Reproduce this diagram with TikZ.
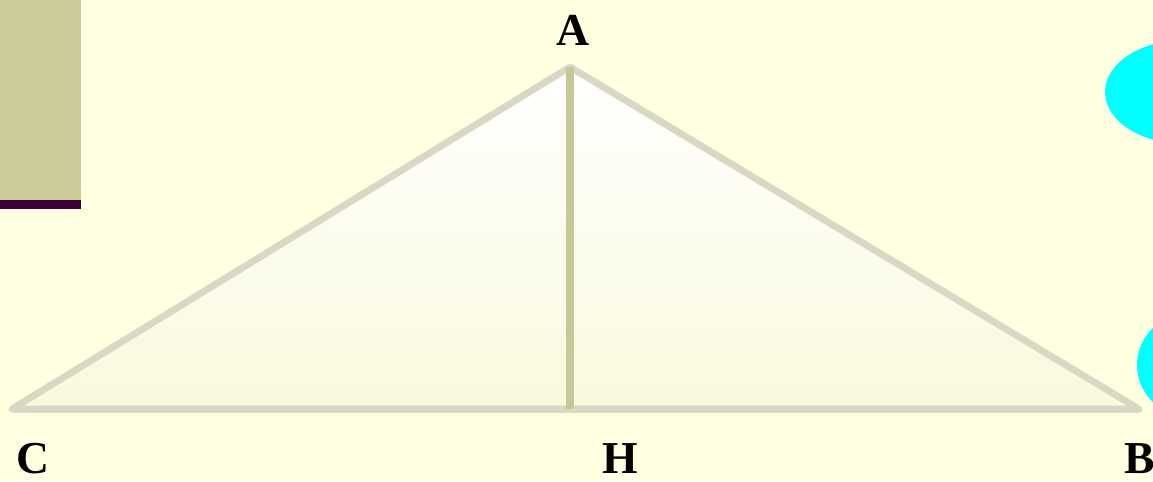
\documentclass[tikz,border=0pt]{standalone}
\usepackage{fontspec}
\setmainfont{Liberation Serif}
\usetikzlibrary{shadows}
\definecolor{bgyellow}{RGB}{255,255,226}
\definecolor{khaki}{RGB}{204,204,153}
\definecolor{plum}{RGB}{58,0,56}
\definecolor{edgegrey}{RGB}{216,216,196}
\definecolor{altcol}{RGB}{200,200,150}
\definecolor{aqua}{RGB}{0,255,255}
\begin{document}
\begin{tikzpicture}[
  x=0.02cm,y=-0.02cm,
  vlab/.style={font=\fontsize{26}{30}\selectfont\bfseries,inner sep=0pt,anchor=base},
  side/.style={draw=edgegrey,line width=3.9pt,line cap=round,line join=round},
  blob/.style={fill=aqua},
]
% page and its frame
\useasboundingbox (0,0) rectangle (1153,481);
\fill[bgyellow] (0,0) rectangle (1153,481);
\clip (0,0) rectangle (1153,481);
% corner decoration
\fill[khaki] (0,0) rectangle (81,200);
\fill[plum] (0,200) rectangle (81,209);
\fill[blob] (1185,92) ellipse [x radius=80,y radius=52];
\fill[blob] (1200,365) ellipse [x radius=63,y radius=56];
% vertices
\coordinate (A) at (570,67);
\coordinate (B) at (1139,409);
\coordinate (C) at (12,409);
\coordinate (H) at (570,409);
% triangle
\path[top color=white,bottom color=bgyellow!85!edgegrey,
      drop shadow={opacity=0.35,shadow xshift=0pt,shadow yshift=-2pt}]
  (A) -- (B) -- (C) -- cycle;
\draw[side] (A) -- (B) -- (C) -- cycle;
\draw[altcol,line width=4.4pt] (A) -- (H);
% labels
\node[vlab] (labA) at (573,45)  {A};
\node[vlab] (labC) at (33,473)  {C};
\node[vlab] (labH) at (620,473) {H};
\node[vlab] (labB) at (1140,473) {B};
\end{tikzpicture}
\end{document}
